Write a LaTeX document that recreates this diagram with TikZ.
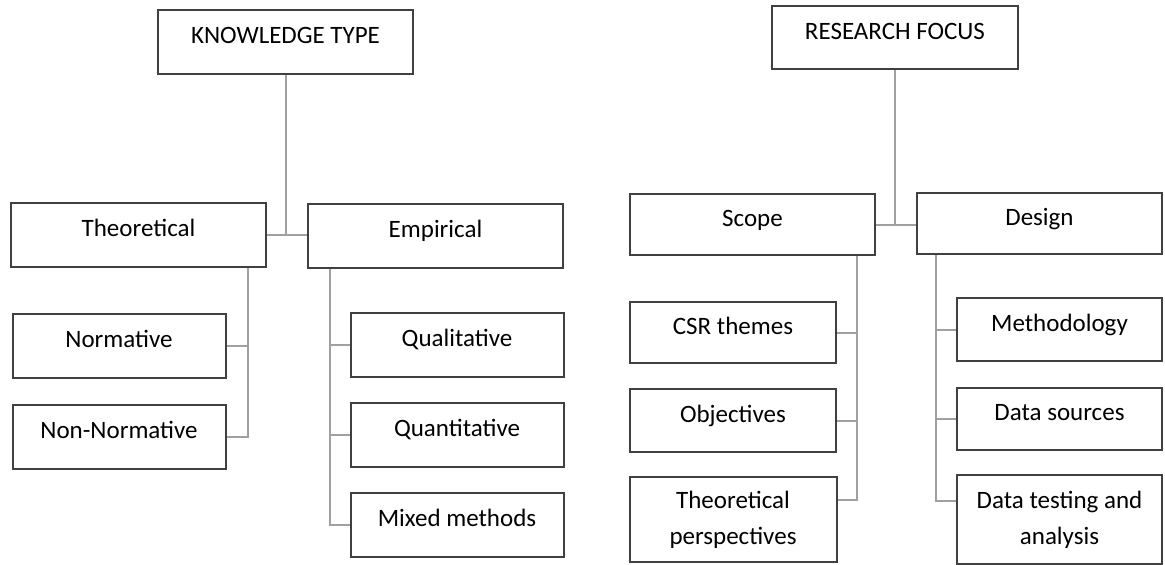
\documentclass[tikz,border=0pt]{standalone}
\usepackage{fontspec}
\setmainfont{Carlito}
\usepackage{xcolor}
\usetikzlibrary{calc,positioning}
\definecolor{boxline}{HTML}{404040}
\definecolor{lnk}{HTML}{A0A0A0}

\begin{document}
\begin{tikzpicture}[x=1pt,y=-1pt,node distance=24pt,
  font=\fontsize{25}{36}\selectfont,
  bx/.style={draw=boxline,line width=2pt,inner sep=0pt,align=center,minimum width=#1,minimum height=64pt},
  bx/.default=213pt,
  one/.style={text height=17pt,text depth=14pt},
  ln/.style={draw=lnk,line width=2pt}]
  \useasboundingbox (0,0) rectangle (1165,565);
  \node[bx=255pt,one] (kt) at (285.5,42) {KNOWLEDGE TYPE};
  \node[bx=246pt,one,minimum height=63pt] (rf) at (895,37.5) {RESEARCH FOCUS};
  \node[bx=255pt,one] (theo) at (138.5,235) {Theoretical};
  \node[bx=255pt,one] (emp) at (435.5,235.5) {Empirical};
  \node[bx=245pt,one,minimum height=61pt] (scope) at (752.5,224.5) {Scope};
  \node[bx=245pt,one,minimum height=61pt] (design) at (1039.5,223.5) {Design};
  \node[bx,one] (norm) at (119,346) {Normative};
  \node[bx,one,below=25pt of norm] (nonnorm) {Non-Normative};
  \node[bx,one] (qual) at (457,345) {Qualitative};
  \node[bx,one,below=of qual] (quant) {Quantitative};
  \node[bx,one,below=of quant] (mixed) {Mixed methods};
  \node[bx=206pt,one,minimum height=61pt] (csr) at (733,332.5) {CSR themes};
  \node[bx=206pt,one,minimum height=63pt,below=of csr] (obj) {Objectives};
  \node[bx=207pt,minimum height=85pt,below=23pt of obj] (tp) {Theoretical\\perspectives};
  \node[bx=205pt,one,minimum height=63pt] (meth) at (1059.5,329.5) {Methodology};
  \node[bx=205pt,one,minimum height=62pt,below=25pt of meth] (dsrc) {Data sources};
  \node[bx=205pt,minimum height=89pt,below=23pt of dsrc] (dtest) {Data testing and\\analysis};
  % left tree
  \draw[ln] (kt) -- (kt |- theo.east);
  \draw[ln] (theo.east) -- (theo.east -| emp.west);
  \coordinate (ttr) at ($(theo.south east)+(-19,0)$);
  \draw[ln] (ttr) |- (nonnorm.east);
  \draw[ln] (norm.east) -- (norm.east -| ttr);
  \coordinate (etr) at ($(emp.south west)+(23,0)$);
  \draw[ln] (etr) |- (mixed.west);
  \draw[ln] (qual.west) -- (qual.west -| etr);
  \draw[ln] (quant.west) -- (quant.west -| etr);
  % right tree
  \draw[ln] (rf) -- (rf |- scope.east);
  \draw[ln] (scope.east) -- (scope.east -| design.west);
  \coordinate (str) at ($(scope.south east)+(-19,0)$);
  \coordinate (tpin) at ($(tp.north east)+(0,24)$);
  \draw[ln] (str) |- (tpin);
  \draw[ln] (csr.east) -- (csr.east -| str);
  \draw[ln] (obj.east) -- (obj.east -| str);
  \coordinate (dtr) at ($(design.south west)+(20,0)$);
  \coordinate (dtin) at ($(dtest.north west)+(0,27)$);
  \draw[ln] (dtr) |- (dtin);
  \draw[ln] (meth.west) -- (meth.west -| dtr);
  \draw[ln] (dsrc.west) -- (dsrc.west -| dtr);
\end{tikzpicture}
\end{document}
